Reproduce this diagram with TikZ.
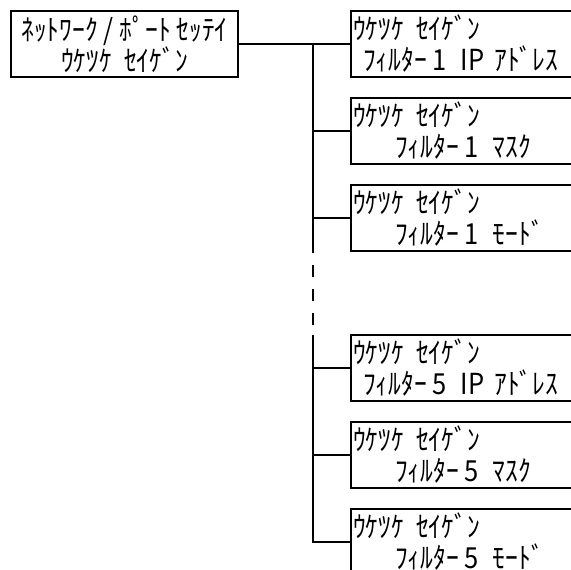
\documentclass[tikz,border=0pt]{standalone}
\usepackage{fontspec}
\newfontfamily\lcdfont[FakeStretch=0.88]{Noto Sans CJK JP}
\usetikzlibrary{positioning}

\begin{document}
\begin{tikzpicture}[
  x=1pt, y=-1pt,
  node distance=21pt,
  menu/.style={draw, line width=2pt, minimum height=66pt, inner sep=0pt, outer sep=0pt, font=\lcdfont\fontsize{29}{31}\selectfont},
  sub/.style={menu, anchor=north west, minimum width=228pt, text width=224pt, align=left},
  link/.style={line width=2pt}
]
\useasboundingbox (0,0) rectangle (571,570);
\clip (0,0) rectangle (571,570);
% top level
\node[menu, anchor=north west, minimum width=227pt, align=center] (net) at (11,11)
  {ﾈｯﾄﾜｰｸ\hspace{6pt}/\hspace{6pt}ﾎﾟｰﾄ ｾｯﾃｲ\\ｳｹﾂｹ\hspace{12pt}ｾｲｹﾞﾝ};
% filter 1
\node[sub] (f1ip) at (351,11) {ｳｹﾂｹ\hspace{12pt}ｾｲｹﾞﾝ\\\hspace*{10pt}ﾌｨﾙﾀｰ\hspace{6pt}1\hspace{14pt}IP ｱﾄﾞﾚｽ};
\node[sub, below=of f1ip.south west, anchor=north west] (f1mask) {ｳｹﾂｹ\hspace{12pt}ｾｲｹﾞﾝ\\\hspace*{42pt}ﾌｨﾙﾀｰ\hspace{6pt}1\hspace{14pt}ﾏｽｸ};
\node[sub, below=of f1mask.south west, anchor=north west] (f1mode) {ｳｹﾂｹ\hspace{12pt}ｾｲｹﾞﾝ\\\hspace*{42pt}ﾌｨﾙﾀｰ\hspace{6pt}1\hspace{14pt}ﾓｰﾄﾞ};
% filter 5
\node[sub] (f5ip) at (351,335) {ｳｹﾂｹ\hspace{12pt}ｾｲｹﾞﾝ\\\hspace*{10pt}ﾌｨﾙﾀｰ\hspace{6pt}5\hspace{14pt}IP ｱﾄﾞﾚｽ};
\node[sub, below=of f5ip.south west, anchor=north west] (f5mask) {ｳｹﾂｹ\hspace{12pt}ｾｲｹﾞﾝ\\\hspace*{42pt}ﾌｨﾙﾀｰ\hspace{6pt}5\hspace{14pt}ﾏｽｸ};
\node[sub, below=of f5mask.south west, anchor=north west] (f5mode) {ｳｹﾂｹ\hspace{12pt}ｾｲｹﾞﾝ\\\hspace*{42pt}ﾌｨﾙﾀｰ\hspace{6pt}5\hspace{14pt}ﾓｰﾄﾞ};
% trunk
\coordinate (top) at (313,0 |- net.east);
\coordinate (gapa) at (313,252);
\coordinate (gapb) at (313,335);
\draw[link] (net.east) -- (f1ip.west);
\draw[link] (top) -- (gapa);
\draw[link, dash pattern=on 12pt off 12pt] ([yshift=11pt]gapa) -- (gapb);
\draw[link] (gapb) |- (f5mode.west);
\foreach \n in {f1mask,f1mode,f5ip,f5mask}
  \draw[link] (313,0 |- \n.west) -- (\n.west);
\end{tikzpicture}
\end{document}
